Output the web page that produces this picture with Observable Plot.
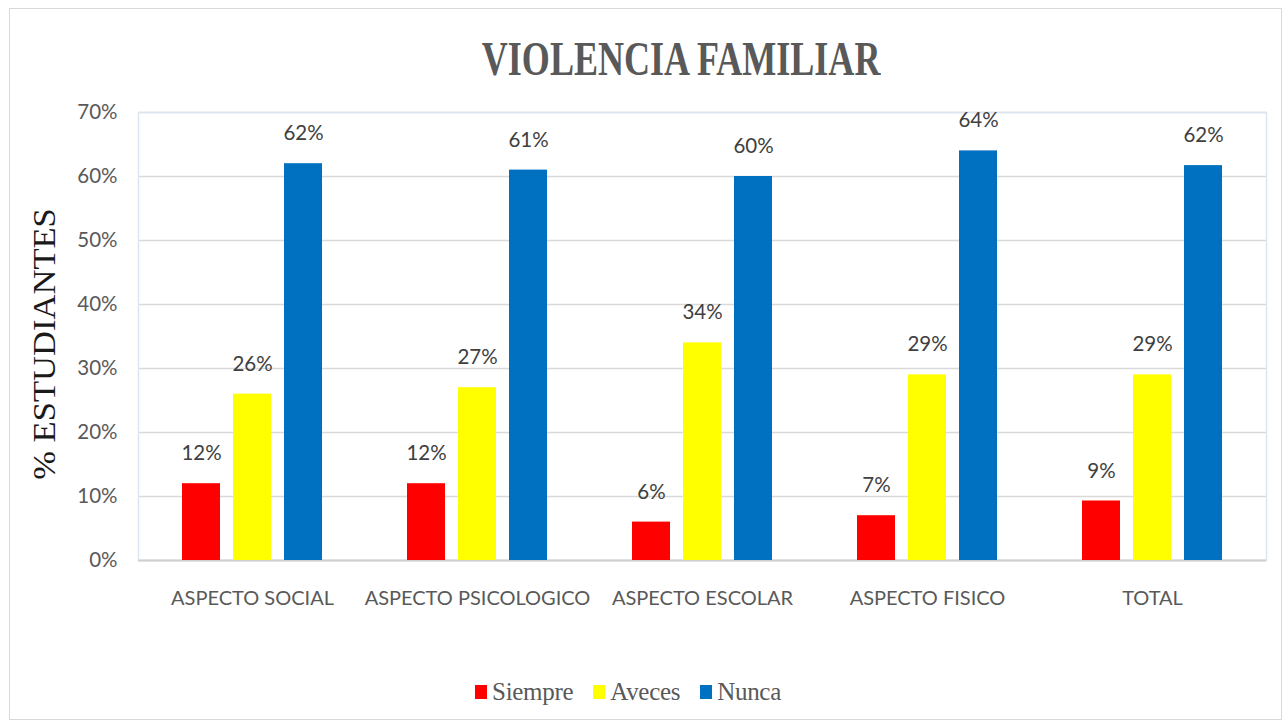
<!DOCTYPE html>
<html><head><meta charset="utf-8">
<script src="https://cdn.jsdelivr.net/npm/d3@7"></script>
<script src="https://cdn.jsdelivr.net/npm/@observablehq/plot@0.6"></script>
<style>
html,body{margin:0;padding:0;background:#fff;}
body{width:1288px;height:727px;position:relative;overflow:hidden;}
#frame{position:absolute;left:9px;top:8px;width:1273px;height:712px;border:1.5px solid #d9d9d9;box-sizing:border-box;}
#title{position:absolute;left:0;top:34px;width:1288px;text-align:center;line-height:50px;transform:translateX(37px);}
#title span{display:inline-block;font-family:"Liberation Serif",serif;font-weight:bold;font-size:49px;color:#595959;transform:scaleX(0.735);transform-origin:50% 50%;white-space:nowrap;}
#ylab{position:absolute;left:44px;top:344px;width:0;height:0;}
#ylab span{position:absolute;left:0;top:0;transform:translate(-50%,-50%) rotate(-90deg) scaleX(1.08);font-family:"Liberation Serif",serif;font-size:32px;color:#1a1a1a;white-space:nowrap;}
.layer{position:absolute;left:0;top:90px;}
#legend{position:absolute;left:0;top:678px;width:1288px;display:flex;justify-content:center;align-items:center;transform:translateX(-16px);}
.item{display:flex;align-items:center;margin:0 10px;}
.sw{width:12px;height:14px;margin-right:5px;}
.lt{font-family:"Liberation Serif",serif;font-size:25px;color:#595959;display:inline-block;letter-spacing:-0.3px;}
</style>
</head><body>
<div id="frame"></div>
<div id="title"><span>VIOLENCIA FAMILIAR</span></div>
<div id="ylab"><span>% ESTUDIANTES</span></div>
<div id="bg" class="layer"></div>
<div id="chart" class="layer"></div>
<div id="legend"></div>
<script>
const categories = ["ASPECTO SOCIAL", "ASPECTO PSICOLOGICO", "ASPECTO ESCOLAR", "ASPECTO FISICO", "TOTAL"];
const series = ["Siempre", "Aveces", "Nunca"];
const colors = ["#FF0000", "#FFFF00", "#0070C0"];
const siempre = [0.12, 0.12, 0.06, 0.07, 0.093];
const aveces = [0.26, 0.27, 0.34, 0.29, 0.29];
const nunca = [0.62, 0.61, 0.60, 0.64, 0.617];
const yTicks = [0, 0.1, 0.2, 0.3, 0.4, 0.5, 0.6, 0.7];

const values = [siempre, aveces, nunca];
const data = [];
categories.forEach((c, i) => series.forEach((s, j) => data.push({cat: c, serie: s, value: values[j][i]})));

const pct = d => Math.round(d * 100) + "%";

const dims = {width: 1288, height: 540, marginTop: 22, marginBottom: 70, marginLeft: 138, marginRight: 22};
const yScale = {domain: [0, 0.7], label: null};

const bg = Plot.plot({
  ...dims,
  style: {fontFamily: "Lato, sans-serif", background: "transparent"},
  y: yScale,
  marks: [
    Plot.gridY(yTicks, {stroke: "#d9d9d9", strokeOpacity: 1, strokeWidth: 1.5}),
    Plot.frame({stroke: "#dce6f2", strokeWidth: 1.5}),
    Plot.ruleY([0], {stroke: "#d0d0d0", strokeWidth: 2}),
    Plot.axisY(yTicks, {tickSize: 0, tickPadding: 21, tickFormat: pct, fontSize: 20.5, fill: "#595959", label: null})
  ]
});
document.getElementById("bg").appendChild(bg);

const chart = Plot.plot({
  ...dims,
  style: {fontFamily: "Lato, sans-serif", background: "transparent"},
  fx: {domain: categories, paddingInner: 0.38, paddingOuter: 0.19, label: null},
  x: {domain: series, paddingInner: 0.255, paddingOuter: 0, axis: null},
  y: {...yScale, axis: null},
  color: {domain: series, range: colors},
  marks: [
    Plot.barY(data, {fx: "cat", x: "serie", y: "value", fill: "serie"}),
    Plot.text(data, {fx: "cat", x: "serie", y: "value", text: d => pct(d.value), dy: -30, fontSize: 20.5, fill: "#404040"}),
    Plot.axisFx({anchor: "bottom", tickSize: 0, tickPadding: 30, fontSize: 20, fill: "#595959", label: null})
  ]
});
document.getElementById("chart").appendChild(chart);

const legend = document.getElementById("legend");
series.forEach((s, i) => {
  const it = document.createElement("div");
  it.className = "item";
  const sw = document.createElement("div");
  sw.className = "sw";
  sw.style.background = colors[i];
  const t = document.createElement("span");
  t.className = "lt";
  t.textContent = s;
  it.appendChild(sw); it.appendChild(t);
  legend.appendChild(it);
});
</script>
</body></html>
